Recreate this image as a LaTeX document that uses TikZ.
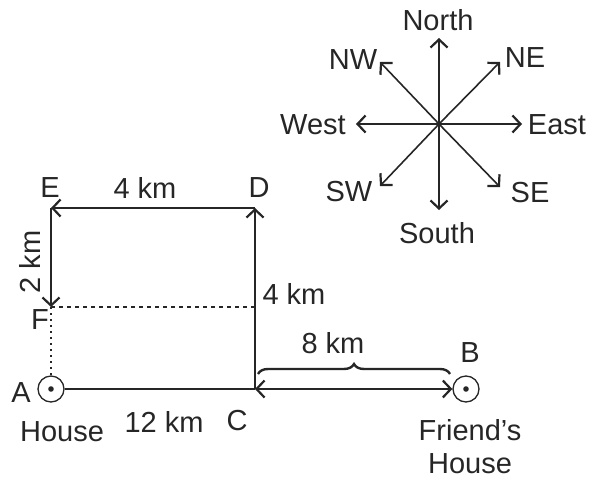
\documentclass[tikz,border=0pt]{standalone}
\usepackage{fontspec}
\setmainfont{Liberation Sans}
\usetikzlibrary{arrows.meta,decorations.pathreplacing}
\tikzset{
  route/.style={line width=1.8pt, draw=black!85},
  barb/.style={-{Straight Barb[length=8pt,width=17pt,line width=2.2pt]}},
  house/.style={circle, draw=black!85, line width=1.3pt, minimum size=26pt, inner sep=0pt},
  lbl/.style={font=\fontsize{29}{33}\selectfont, inner sep=0pt, text=black!85},
}
\begin{document}
\begin{tikzpicture}[x=1pt, y=-1pt]
    \useasboundingbox (0,0) rectangle (592,482);
    % places
    \node [house] (A) at (51, 389) {};
    \node [house] (B) at (466, 389) {};
    \fill [black!85] (A.center) circle (2.8pt) (B.center) circle (2.8pt);
    \coordinate (C) at (255, 389);
    \coordinate (D) at (255, 208);
    \coordinate (E) at (51, 208);
    \coordinate (F) at (51, 307);
    % route
    \draw [route] (A) -- (C);
    \draw [route, barb] (C) -- (D);
    \draw [route, barb] (D) -- (E);
    \draw [route, barb] (E) -- (F);
    \draw [route, {Straight Barb[length=8pt,width=17pt,line width=2.2pt]}-{Straight Barb[length=8pt,width=17pt,line width=2.2pt]}] (C) -- (B);
    \draw [route, dash pattern=on 4pt off 4pt] (F) -- (D |- F);
    \draw [route, dash pattern=on 2pt off 4pt] (F) -- (A);
    \draw [route, line width=2.4pt, decorate, decoration={brace, amplitude=10pt}] (258, 374) -- (450, 374);
    % labels
    \node [lbl] (lE) at (50, 188) {E};
    \node [lbl] (lD) at (259, 188) {D};
    \node [lbl] (dDE) at (145, 188) {4 km};
    \node [lbl, rotate=90] (dEF) at (30, 262) {2 km};
    \node [lbl] (dCD) at (294, 294) {4 km};
    \node [lbl] (lF) at (40, 320) {F};
    \node [lbl] (lA) at (21, 393) {A};
    \node [lbl] (hA) at (62, 432) {House};
    \node [lbl] (dAC) at (164, 422) {12 km};
    \node [lbl] (lC) at (237, 421) {C};
    \node [lbl] (dCB) at (333, 343) {8 km};
    \node [lbl] (lB) at (470, 353) {B};
    \node [lbl, align=center] (hB) at (470, 447) {Friend's\\House};
    % compass
    \coordinate (O) at (439, 124);
    \coordinate (n) at (439, 38);
    \coordinate (s) at (439, 210);
    \coordinate (w) at (356, 124);
    \coordinate (e) at (522, 124);
    \coordinate (ne) at (500, 62);
    \coordinate (nw) at (380, 62);
    \coordinate (sw) at (380, 186);
    \coordinate (se) at (500, 187);
    \foreach \tip in {n, s, w, e, ne, nw, sw, se}
        \draw [route, line width=1.6pt, barb] (O) -- (\tip);
    \node [lbl] (ln) at (438, 20) {North};
    \node [lbl] (ls) at (437, 233) {South};
    \node [lbl] (lw) at (313, 125) {West};
    \node [lbl] (le) at (557, 125) {East};
    \node [lbl] (lnw) at (353, 60) {NW};
    \node [lbl] (lne) at (525, 58) {NE};
    \node [lbl] (lsw) at (349, 192) {SW};
    \node [lbl] (lse) at (530, 193) {SE};
\end{tikzpicture}
\end{document}
